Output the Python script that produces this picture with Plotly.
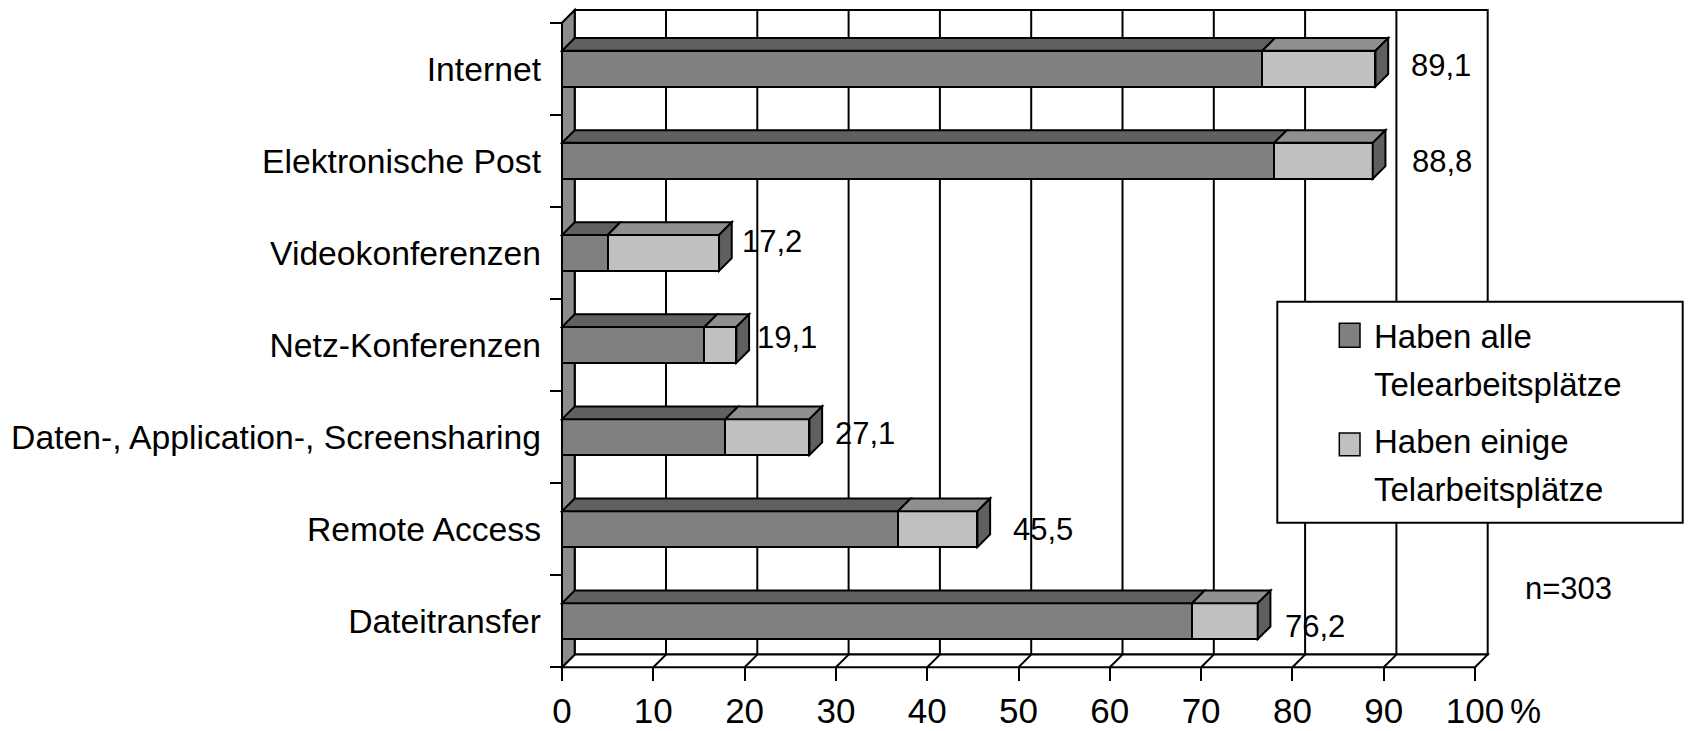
import plotly.graph_objects as go

# ---- data -------------------------------------------------------------
categories = [
    "Internet",
    "Elektronische Post",
    "Videokonferenzen",
    "Netz-Konferenzen",
    "Daten-, Application-, Screensharing",
    "Remote Access",
    "Dateitransfer",
]
haben_alle = [76.7, 78.0, 5.0, 15.6, 17.9, 36.8, 69.0]      # Haben alle Telearbeitsplätze
haben_einige = [12.4, 10.8, 12.2, 3.5, 9.2, 8.7, 7.2]       # Haben einige Telarbeitsplätze
x_tick_values = [0, 10, 20, 30, 40, 50, 60, 70, 80, 90, 100]
legend_lines = [
    ["Haben alle", "Telearbeitsplätze"],
    ["Haben einige", "Telarbeitsplätze"],
]
sample_note = "n=303"

# ---- layout constants (pixels) ---------------------------------------
W, H = 1688, 731
X0_PX = 562.0          # pixel column of the 0 % front edge
PX_PER_PCT = 9.13      # horizontal scale
TOP_PX, BOTTOM_PX = 22.7, 667.3
DEPTH_PX = 12.7        # 3-D depth offset of walls and bars
BAR_W = 0.39           # bar thickness in category units

# per-label nudges for the total labels (x in %, y in category units)
label_dx = [7.2, 7.6, 5.8, 5.5, 6.1, 7.2, 6.3]
label_dy = [-0.03, 0.01, -0.127, -0.084, -0.04, 0.0, 0.054]

DARK, DARK_TOP = "#808080", "#606060"
LIGHT, LIGHT_TOP = "#c0c0c0", "#8f8f8f"
CAP = "#5f5f5f"
WALL = "#8c8c8c"
LINE = "black"
FONT = "Liberation Sans, Arial, sans-serif"

n = len(categories)
row_px = (BOTTOM_PX - TOP_PX) / n
dx = DEPTH_PX / PX_PER_PCT
dy = DEPTH_PX / row_px
idx = list(range(n))
totals = [round(a + b, 1) for a, b in zip(haben_alle, haben_einige)]

x_lo = -X0_PX / PX_PER_PCT
x_hi = x_lo + W / PX_PER_PCT
y_top = -0.5 - TOP_PX / row_px
y_bot = y_top + H / row_px


def poly(points):
    return "M " + " L ".join(f"{x},{y}" for x, y in points) + " Z"


def px(xp):
    return xp / W


def py(yp):
    return 1 - yp / H


fig = go.Figure()

# front faces of the stacked bars
fig.add_bar(
    y=idx, x=haben_alle, orientation="h", width=BAR_W,
    marker=dict(color=DARK, line=dict(color=LINE, width=2)),
    name="Haben alle Telearbeitsplätze", showlegend=False,
)
fig.add_bar(
    y=idx, x=haben_einige, orientation="h", width=BAR_W,
    marker=dict(color=LIGHT, line=dict(color=LINE, width=2)),
    name="Haben einige Telarbeitsplätze", showlegend=False,
)

shapes = []
y_back_top = -0.5 - dy
y_back_bot = n - 0.5 - dy
y_front_bot = n - 0.5

# back wall
shapes.append(dict(type="path", layer="below",
                   path=poly([(dx, y_back_top), (100 + dx, y_back_top),
                              (100 + dx, y_back_bot), (dx, y_back_bot)]),
                   fillcolor="white", line=dict(color=LINE, width=2)))
# back gridlines
for v in x_tick_values[1:-1]:
    shapes.append(dict(type="line", layer="below", x0=v + dx, x1=v + dx,
                       y0=y_back_top, y1=y_back_bot, line=dict(color=LINE, width=2)))
# floor
shapes.append(dict(type="path", layer="below",
                   path=poly([(0, y_front_bot), (100, y_front_bot),
                              (100 + dx, y_back_bot), (dx, y_back_bot)]),
                   fillcolor="white", line=dict(color=LINE, width=2)))
for v in x_tick_values[1:-1]:
    shapes.append(dict(type="line", layer="below", x0=v, x1=v + dx,
                       y0=y_front_bot, y1=y_back_bot, line=dict(color=LINE, width=2)))
# left wall
shapes.append(dict(type="path", layer="below",
                   path=poly([(0, -0.5), (dx, y_back_top), (dx, y_back_bot), (0, y_front_bot)]),
                   fillcolor=WALL, line=dict(color=LINE, width=2)))

# top faces and end caps of the bars
for i in idx:
    a, t = haben_alle[i], totals[i]
    top, bot = i - BAR_W / 2, i + BAR_W / 2
    shapes.append(dict(type="path",
                       path=poly([(0, top), (a, top), (a + dx, top - dy), (dx, top - dy)]),
                       fillcolor=DARK_TOP, line=dict(color=LINE, width=2)))
    shapes.append(dict(type="path",
                       path=poly([(a, top), (t, top), (t + dx, top - dy), (a + dx, top - dy)]),
                       fillcolor=LIGHT_TOP, line=dict(color=LINE, width=2)))
    shapes.append(dict(type="path",
                       path=poly([(t, top), (t + dx, top - dy), (t + dx, bot - dy), (t, bot)]),
                       fillcolor=CAP, line=dict(color=LINE, width=2)))

# legend box and keys
shapes.append(dict(type="rect", xref="paper", yref="paper",
                   x0=px(1277.3), x1=px(1682.7), y0=py(301.7), y1=py(522.7),
                   fillcolor="white", line=dict(color=LINE, width=2)))
key_rows = [(323.3, 347.3), (433.0, 455.7)]
for (k0, k1), col in zip(key_rows, [DARK, LIGHT]):
    shapes.append(dict(type="rect", xref="paper", yref="paper",
                       x0=px(1339.3), x1=px(1360.0), y0=py(k1), y1=py(k0),
                       fillcolor=col, line=dict(color=LINE, width=1.5)))

annotations = []
# total labels
for i in idx:
    annotations.append(dict(
        x=totals[i] + label_dx[i], y=i + label_dy[i],
        text=f"{totals[i]:.1f}".replace(".", ","), showarrow=False,
        xanchor="center", yanchor="middle",
        font=dict(family=FONT, size=31, color="black")))
# legend text
line_centers = [[336.0, 384.3], [441.7, 489.3]]
for lines, centers in zip(legend_lines, line_centers):
    for txt, cy in zip(lines, centers):
        annotations.append(dict(
            xref="paper", yref="paper", x=px(1371.7), y=py(cy), text=txt,
            showarrow=False, xanchor="left", yanchor="middle",
            font=dict(family=FONT, size=33, color="black")))
# sample size
annotations.append(dict(xref="paper", yref="paper", x=px(1568), y=py(588),
                        text=sample_note, showarrow=False,
                        xanchor="center", yanchor="middle",
                        font=dict(family=FONT, size=31, color="black")))
# unit after the last tick label
annotations.append(dict(x=100, xanchor="left", xshift=33,
                        yref="paper", y=py(710), yanchor="middle",
                        text="%", showarrow=False,
                        font=dict(family=FONT, size=35, color="black")))

fig.update_layout(
    width=W, height=H,
    margin=dict(l=0, r=0, t=0, b=0),
    paper_bgcolor="white", plot_bgcolor="white",
    barmode="stack", bargap=0,
    shapes=shapes, annotations=annotations,
    showlegend=False,
    xaxis=dict(
        range=[x_lo, x_hi], anchor="free", position=1 - BOTTOM_PX / H,
        tickmode="array", tickvals=x_tick_values,
        ticktext=[str(v) for v in x_tick_values],
        ticks="outside", ticklen=13, tickwidth=2, tickcolor=LINE,
        ticklabelstandoff=0,
        tickfont=dict(family=FONT, size=35, color="black"),
        showgrid=False, zeroline=False, showline=False, automargin=False,
    ),
    yaxis=dict(
        range=[y_bot, y_top], anchor="free", position=X0_PX / W,
        tickmode="array", tickvals=idx, ticktext=categories,
        ticks="", ticklabelstandoff=21,
        minor=dict(tickmode="array", tickvals=[i - 0.5 for i in range(n + 1)],
                   ticks="outside", ticklen=12, tickwidth=2, tickcolor=LINE),
        tickfont=dict(family=FONT, size=33.7, color="black"),
        showgrid=False, zeroline=False, showline=False, automargin=False,
    ),
)

fig.write_html("out.html")
